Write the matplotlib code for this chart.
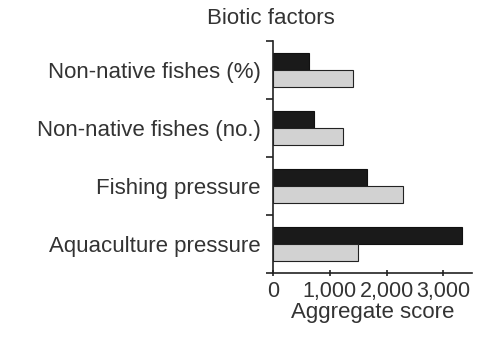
import numpy as np
import matplotlib
matplotlib.use("Agg")
from matplotlib import pyplot as plt

plt.rcParams['font.family'] = ['Liberation Sans', 'DejaVu Sans']

categories = ["Non-native fishes (%)", "Non-native fishes (no.)",
              "Fishing pressure", "Aquaculture pressure"]
dark_vals = [630, 720, 1650, 3330]
light_vals = [1410, 1230, 2290, 1500]
xticks = [0, 1000, 2000, 3000]
xtick_labels = ["0", "1,000", "2,000", "3,000"]

txt = "#333333"
fig = plt.figure(figsize=(4.86, 3.38), dpi=100)
ax = fig.add_axes([0.5617, 0.1923, 0.971 - 0.5617, 0.8787 - 0.1923])

y = np.arange(len(categories))
h = 0.29
ax.barh(y - h / 2, dark_vals, height=h, color="#1a1a1a",
        edgecolor="#111111", linewidth=0.8, zorder=3)
ax.barh(y + h / 2, light_vals, height=h, color="#d2d2d2",
        edgecolor="#222222", linewidth=0.8, zorder=3)

ax.set_ylim(3.5, -0.5)
ax.set_xlim(0, 3500)

# category labels at group centres, tick marks only between groups
ax.set_yticks(y)
ax.set_yticklabels(categories, fontsize=16, color=txt)
ax.tick_params(axis="y", which="major", length=0, pad=9)
ax.set_yticks(np.arange(-0.5, 4.0, 1.0), minor=True)
ax.tick_params(axis="y", which="minor", direction="out", length=5,
               width=1.2, color="#222222")

ax.set_xticks(xticks)
ax.set_xticklabels(xtick_labels, fontsize=15.5, color=txt)
ax.tick_params(axis="x", direction="inout", length=5, width=1.2,
               color="#222222", pad=3)
ax.set_xlabel("Aggregate score", fontsize=16, color=txt, labelpad=0)

for s in ["top", "right"]:
    ax.spines[s].set_visible(False)
for s in ["left", "bottom"]:
    ax.spines[s].set_linewidth(1.2)
    ax.spines[s].set_color("#222222")
    ax.spines[s].set_zorder(4)

fig.text(271 / 486, 1 - 18 / 338, "Biotic factors", fontsize=16,
         color=txt, ha="center", va="center")

fig.savefig("out.png", dpi=100)
